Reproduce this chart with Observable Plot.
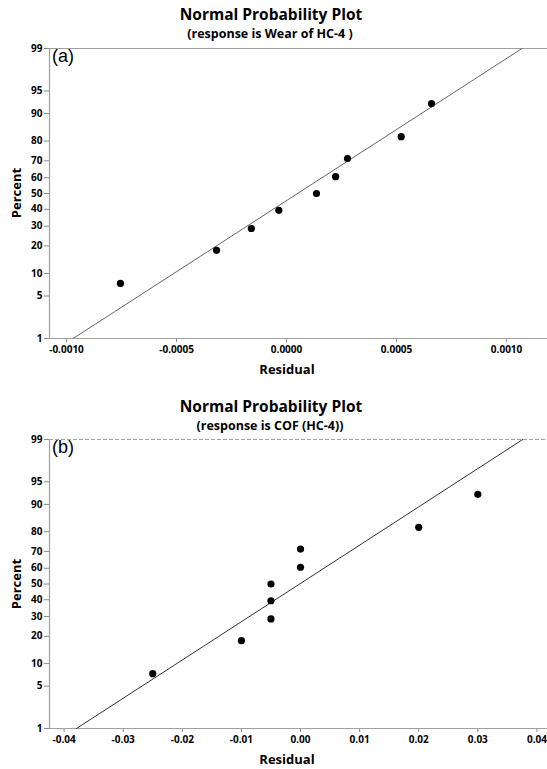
<!DOCTYPE html>
<html>
<head>
<meta charset="utf-8">
<script src="https://cdn.jsdelivr.net/npm/d3@7"></script>
<script src="https://cdn.jsdelivr.net/npm/@observablehq/plot@0.6"></script>
<style>
  html, body { margin: 0; padding: 0; background: #fff; }
  #page { position: relative; width: 547px; height: 769px; overflow: hidden; font-family: "Open Sans", sans-serif; }
  .t { position: absolute; white-space: nowrap; color: #000; }
  .title { font-weight: bold; font-size: 15.5px; line-height: 18px; left: 0; width: 542px; text-align: center; }
  .sub { font-weight: bold; font-size: 12.5px; line-height: 14px; left: 0; width: 540px; text-align: center; }
  .panelLabel { font-family: "Liberation Sans", Arial, sans-serif; font-size: 18px; line-height: 20px; }
  .axlab { font-weight: bold; font-size: 13px; line-height: 16px; }
  .plot { position: absolute; left: 0; }
</style>
</head>
<body>
<div id="page"></div>
<script>
// ---------- data ----------
const tickPercents = [1, 5, 10, 20, 30, 40, 50, 60, 70, 80, 90, 95, 99];
const percentA = [7.45, 18.09, 28.72, 39.36, 50, 60.64, 71.28, 81.91, 92.55];
const residualA = [-0.000755, -0.000318, -0.00016, -0.000035, 0.000136, 0.000223, 0.000277, 0.000521, 0.000659];
const fitPercentA = [1, 99];
const fitResidualA = [-0.00097, 0.00107];
const xTicksA = [-0.001, -0.0005, 0, 0.0005, 0.001];

const percentB = [7.45, 18.09, 28.72, 39.36, 50, 60.64, 71.28, 81.91, 92.55];
const residualB = [-0.025, -0.010, -0.005, -0.005, -0.005, 0.000, 0.000, 0.020, 0.030];
const fitPercentB = [1, 99];
const fitResidualB = [-0.0379, 0.0376];
const xTicksB = [-0.04, -0.03, -0.02, -0.01, 0, 0.01, 0.02, 0.03, 0.04];

// inverse normal CDF (Acklam)
function probit(p) {
  const a = [-3.969683028665376e+01, 2.209460984245205e+02, -2.759285104469687e+02, 1.383577518672690e+02, -3.066479806614716e+01, 2.506628277459239e+00];
  const b = [-5.447609879822406e+01, 1.615858368580409e+02, -1.556989798598866e+02, 6.680131188771972e+01, -1.328068155288572e+01];
  const c = [-7.784894002430293e-03, -3.223964580411365e-01, -2.400758277161838e+00, -2.549732539343734e+00, 4.374664141464968e+00, 2.938163982698783e+00];
  const d = [7.784695709041462e-03, 3.224671290700398e-01, 2.445134137142996e+00, 3.754408661907416e+00];
  const pl = 0.02425, ph = 1 - pl;
  let q, r;
  if (p < pl) { q = Math.sqrt(-2 * Math.log(p)); return (((((c[0]*q+c[1])*q+c[2])*q+c[3])*q+c[4])*q+c[5]) / ((((d[0]*q+d[1])*q+d[2])*q+d[3])*q+1); }
  if (p <= ph) { q = p - 0.5; r = q*q; return (((((a[0]*r+a[1])*r+a[2])*r+a[3])*r+a[4])*r+a[5])*q / (((((b[0]*r+b[1])*r+b[2])*r+b[3])*r+b[4])*r+1); }
  q = Math.sqrt(-2 * Math.log(1 - p));
  return -(((((c[0]*q+c[1])*q+c[2])*q+c[3])*q+c[4])*q+c[5]) / ((((d[0]*q+d[1])*q+d[2])*q+d[3])*q+1);
}
const z = pct => probit(pct / 100);

const page = document.getElementById("page");
function addText(cls, text, left, top, extra) {
  const el = document.createElement("div");
  el.className = "t " + cls;
  el.textContent = text;
  if (left != null) el.style.left = left + "px";
  el.style.top = top + "px";
  if (extra) Object.assign(el.style, extra);
  page.appendChild(el);
  return el;
}

function panel(o) {
  addText("title", "Normal Probability Plot", null, o.titleTop);
  addText("sub", o.subtitle, null, o.subTop);
  const pts = o.residual.map((r, i) => ({r, p: o.percent[i]}));
  const fit = o.fitResidual.map((r, i) => ({r, p: o.fitPercent[i]}));
  const zmin = z(1), zmax = z(99);
  const chart = Plot.plot({
    width: 547, height: o.height,
    marginLeft: 49, marginRight: 0, marginTop: 8, marginBottom: o.marginBottom,
    style: {fontFamily: "Open Sans, sans-serif", fontWeight: "bold", fontSize: "10px", color: "#000", background: "transparent", overflow: "visible"},
    x: {domain: o.xDomain, ticks: o.xTicks, tickFormat: o.xFmt, tickSize: 4, tickPadding: 3, label: null},
    y: {domain: [zmin, zmax], ticks: tickPercents.map(z),
        tickFormat: d => tickPercents.find(p => Math.abs(z(p) - d) < 1e-9),
        tickSize: 5, tickPadding: 2, label: null},
    marks: [
      Plot.ruleY([zmax], {stroke: "#a0a0a0", strokeWidth: 1.2, strokeDasharray: o.topDash ? "4,2" : null}),
      Plot.ruleY([zmin], {stroke: "#a0a0a0", strokeWidth: 1.2}),
      Plot.ruleX([o.xDomain[0]], {stroke: "#a0a0a0", strokeWidth: 1.2}),
      Plot.line(fit, {x: "r", y: d => z(d.p), stroke: o.lineColor, strokeWidth: 1}),
      Plot.dot(pts, {x: "r", y: d => z(d.p), r: 3.6, fill: "#000", stroke: "none"})
    ]
  });
  chart.classList.add("plot");
  chart.style.top = o.svgTop + "px";
  chart.querySelectorAll("[aria-label$='tick'] path, [aria-label$='tick']").forEach(g => g.setAttribute("stroke", "#888"));
  page.appendChild(chart);
  addText("panelLabel", o.label, 52, o.svgTop + 6);
  addText("axlab", "Percent", null, o.svgTop + 8 + (o.height - 8 - o.marginBottom) / 2 - 8,
    {left: "7px", transform: "rotate(-90deg)", transformOrigin: "center center", width: "60px", textAlign: "center", marginLeft: "-21px"});
  addText("axlab", "Residual", null, o.svgTop + o.height - o.marginBottom + o.resTop,
    {left: "0px", width: "574px", textAlign: "center"});
}

const fmt4 = d => (d < 0 ? "-" : "") + Math.abs(d).toFixed(4);
const fmt2 = d => (d < 0 ? "-" : "") + Math.abs(d).toFixed(2);

panel({
  subtitle: "(response is Wear of HC-4 )", label: "(a)",
  titleTop: 5, subTop: 27, svgTop: 40, height: 340, marginBottom: 42, resTop: 23,
  residual: residualA, percent: percentA, fitResidual: fitResidualA, fitPercent: fitPercentA,
  xDomain: [-0.0010773, 0.001186], xTicks: xTicksA, xFmt: fmt4, topDash: false, lineColor: "#666"
});
panel({
  subtitle: "(response is COF (HC-4))", label: "(b)",
  titleTop: 397, subTop: 419, svgTop: 431, height: 338, marginBottom: 41, resTop: 23,
  residual: residualB, percent: percentB, fitResidual: fitResidualB, fitPercent: fitPercentB,
  xDomain: [-0.04247, 0.04179], xTicks: xTicksB, xFmt: fmt2, topDash: true, lineColor: "#333"
});
</script>
</body>
</html>
